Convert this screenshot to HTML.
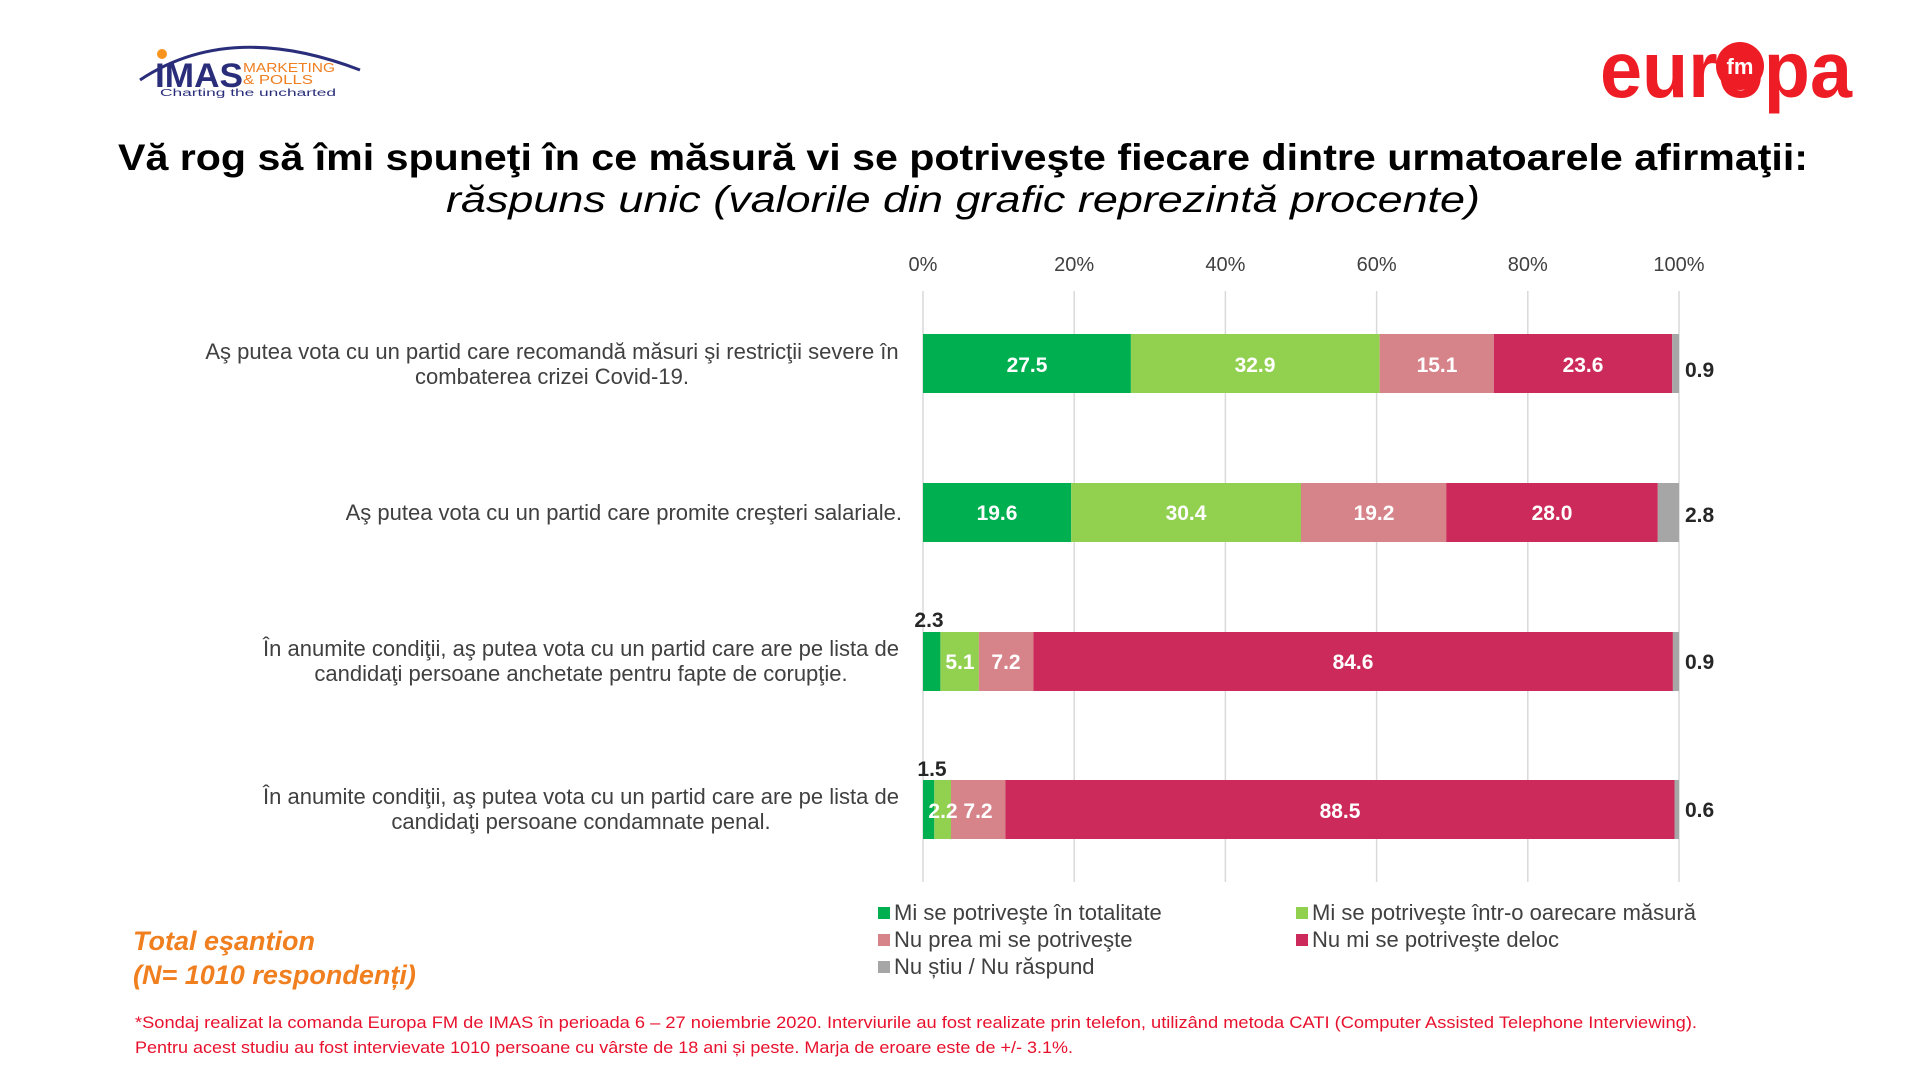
<!DOCTYPE html>
<html><head><meta charset="utf-8"><style>html,body{margin:0;padding:0;background:#fff}svg{display:block}</style></head>
<body>
<svg width="1920" height="1080" viewBox="0 0 1920 1080" xmlns="http://www.w3.org/2000/svg" font-family="Liberation Sans, Arial, sans-serif">
<rect width="1920" height="1080" fill="#fff"/>
<!-- logos -->
<path d="M140 80 Q230 20 360 70" fill="none" stroke="#2a2e7a" stroke-width="3"/>
<circle cx="162" cy="54" r="5" fill="#f7941d"/>
<text x="155" y="87" font-size="34" font-weight="bold" fill="#2a2e7a" textLength="88" lengthAdjust="spacingAndGlyphs">IMAS</text>
<text x="243" y="72" font-size="13" fill="#f07f20" textLength="92" lengthAdjust="spacingAndGlyphs">MARKETING</text>
<text x="243" y="84" font-size="13" fill="#f07f20" textLength="70" lengthAdjust="spacingAndGlyphs">&amp; POLLS</text>
<text x="160" y="96" font-size="10" fill="#2a2e7a" textLength="176" lengthAdjust="spacingAndGlyphs">Charting the uncharted</text>
<text x="1600" y="97" font-size="80" font-weight="bold" fill="#ee1c25" textLength="252" lengthAdjust="spacingAndGlyphs">europa</text>
<circle cx="1740" cy="66" r="24" fill="#ee1c25"/>
<text x="1740" y="74" font-size="22" font-weight="bold" fill="#fff" text-anchor="middle">fm</text>
<!-- title -->
<text x="118" y="170" font-size="37" font-weight="bold" fill="#000" textLength="1690" lengthAdjust="spacingAndGlyphs">Vă rog să îmi spuneţi în ce măsură vi se potriveşte fiecare dintre urmatoarele afirmaţii:</text>
<text x="446" y="212" font-size="37" font-style="italic" fill="#000" textLength="1034" lengthAdjust="spacingAndGlyphs">răspuns unic (valorile din grafic reprezintă procente)</text>
<!-- grid -->
<g stroke="#d9d9d9" stroke-width="1.5">
<line x1="923" y1="291" x2="923" y2="882"/><line x1="1074.2" y1="291" x2="1074.2" y2="882"/><line x1="1225.4" y1="291" x2="1225.4" y2="882"/><line x1="1376.6" y1="291" x2="1376.6" y2="882"/><line x1="1527.8" y1="291" x2="1527.8" y2="882"/><line x1="1679" y1="291" x2="1679" y2="882"/>
</g>
<g font-size="20" fill="#404040" text-anchor="middle">
<text x="923" y="271">0%</text><text x="1074.2" y="271">20%</text><text x="1225.4" y="271">40%</text><text x="1376.6" y="271">60%</text><text x="1527.8" y="271">80%</text><text x="1679" y="271">100%</text>
</g>
<!-- bars -->
<g>
<rect x="923" y="334" width="207.9" height="59" fill="#00b050"/><rect x="1130.9" y="334" width="248.7" height="59" fill="#92d050"/><rect x="1379.6" y="334" width="114.2" height="59" fill="#d6848a"/><rect x="1493.8" y="334" width="178.4" height="59" fill="#cc2a5a"/><rect x="1672.2" y="334" width="6.8" height="59" fill="#a6a6a6"/>
<rect x="923" y="483" width="148.2" height="59" fill="#00b050"/><rect x="1071.2" y="483" width="229.8" height="59" fill="#92d050"/><rect x="1301" y="483" width="145.2" height="59" fill="#d6848a"/><rect x="1446.2" y="483" width="211.6" height="59" fill="#cc2a5a"/><rect x="1657.8" y="483" width="21.2" height="59" fill="#a6a6a6"/>
<rect x="923" y="632" width="17.4" height="59" fill="#00b050"/><rect x="940.4" y="632" width="38.5" height="59" fill="#92d050"/><rect x="978.9" y="632" width="54.5" height="59" fill="#d6848a"/><rect x="1033.4" y="632" width="639.5" height="59" fill="#cc2a5a"/><rect x="1672.9" y="632" width="6.1" height="59" fill="#a6a6a6"/>
<rect x="923" y="780" width="11.3" height="59" fill="#00b050"/><rect x="934.3" y="780" width="16.7" height="59" fill="#92d050"/><rect x="951" y="780" width="54.4" height="59" fill="#d6848a"/><rect x="1005.4" y="780" width="669.1" height="59" fill="#cc2a5a"/><rect x="1674.5" y="780" width="4.5" height="59" fill="#a6a6a6"/>
</g>
<g font-size="21" font-weight="bold" fill="#fff" text-anchor="middle">
<text x="1027" y="372">27.5</text><text x="1255" y="372">32.9</text><text x="1437" y="372">15.1</text><text x="1583" y="372">23.6</text>
<text x="997" y="520">19.6</text><text x="1186" y="520">30.4</text><text x="1374" y="520">19.2</text><text x="1552" y="520">28.0</text>
<text x="960" y="669">5.1</text><text x="1006" y="669">7.2</text><text x="1353" y="669">84.6</text>
<text x="943" y="818">2.2</text><text x="978" y="818">7.2</text><text x="1340" y="818">88.5</text>
</g>
<g font-size="21" font-weight="bold" fill="#262626">
<text x="1685" y="377">0.9</text><text x="1685" y="522">2.8</text><text x="1685" y="669">0.9</text><text x="1685" y="817">0.6</text>
<text x="929" y="627" text-anchor="middle">2.3</text><text x="932" y="776" text-anchor="middle">1.5</text>
</g>
<!-- category labels -->
<g font-size="22" fill="#404040" text-anchor="middle">
<text x="552" y="359">Aş putea vota cu un partid care recomandă măsuri şi restricţii severe în</text>
<text x="552" y="384">combaterea crizei Covid-19.</text>
<text x="902" y="520" text-anchor="end">Aş putea vota cu un partid care promite creşteri salariale.</text>
<text x="581" y="656">În anumite condiţii, aş putea vota cu un partid care are pe lista de</text>
<text x="581" y="681">candidaţi persoane anchetate pentru fapte de corupţie.</text>
<text x="581" y="804">În anumite condiţii, aş putea vota cu un partid care are pe lista de</text>
<text x="581" y="829">candidaţi persoane condamnate penal.</text>
</g>
<!-- legend -->
<rect x="878" y="907" width="12" height="12" fill="#00b050"/><rect x="1296" y="907" width="12" height="12" fill="#92d050"/>
<rect x="878" y="934" width="12" height="12" fill="#d6848a"/><rect x="1296" y="934" width="12" height="12" fill="#cc2a5a"/>
<rect x="878" y="961" width="12" height="12" fill="#a6a6a6"/>
<g font-size="22" fill="#404040">
<text x="894" y="920">Mi se potriveşte în totalitate</text><text x="1312" y="920">Mi se potriveşte într-o oarecare măsură</text>
<text x="894" y="947">Nu prea mi se potriveşte</text><text x="1312" y="947">Nu mi se potriveşte deloc</text>
<text x="894" y="974">Nu știu / Nu răspund</text>
</g>
<g font-size="27" font-weight="bold" font-style="italic" fill="#f07f20">
<text x="133" y="950">Total eşantion</text>
<text x="133" y="984">(N= 1010 respondenți)</text>
</g>
<g font-size="17" fill="#e8112d">
<text x="135" y="1028" textLength="1562" lengthAdjust="spacingAndGlyphs">*Sondaj realizat la comanda Europa FM de IMAS în perioada  6 – 27 noiembrie 2020. Interviurile au fost realizate prin telefon, utilizând metoda CATI (Computer Assisted Telephone Interviewing).</text>
<text x="135" y="1053" textLength="938" lengthAdjust="spacingAndGlyphs">Pentru acest studiu au fost intervievate 1010 persoane cu vârste de 18 ani și peste. Marja de eroare este de +/- 3.1%.</text>
</g>
</svg>
</body></html>
